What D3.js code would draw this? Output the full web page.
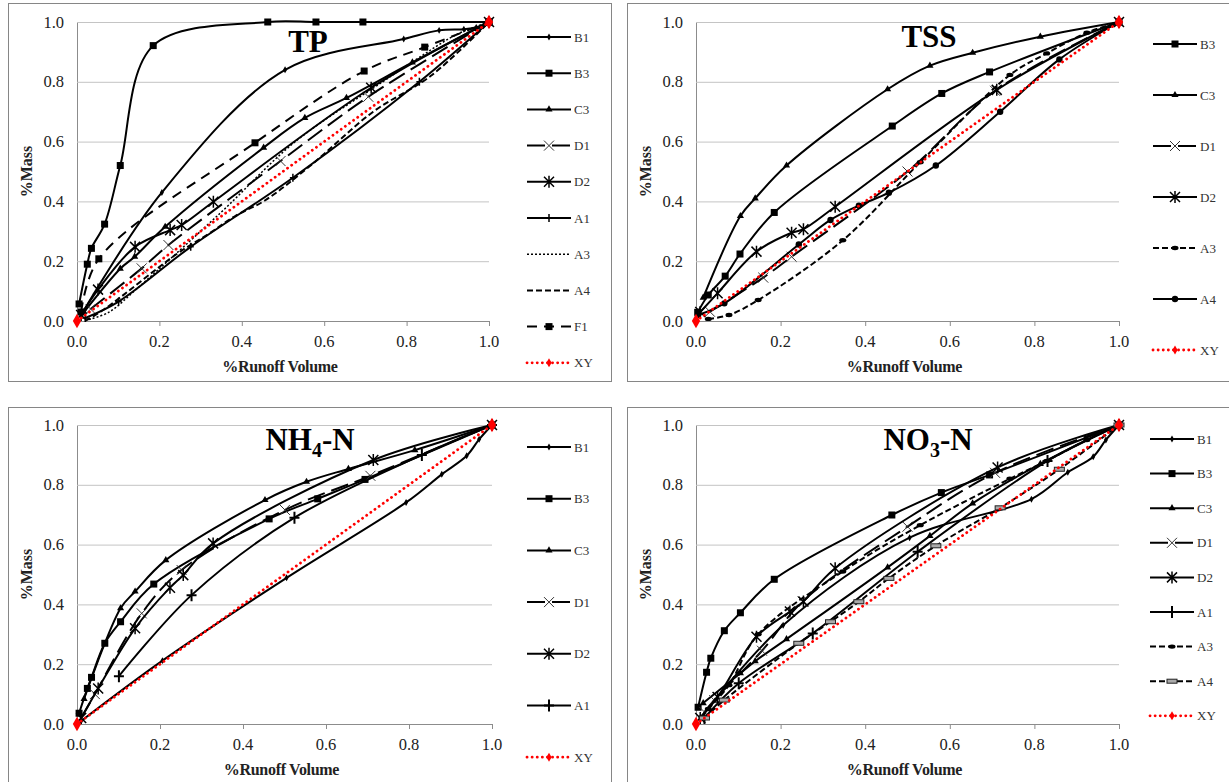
<!DOCTYPE html>
<html>
<head>
<meta charset="utf-8">
<script src="https://cdn.jsdelivr.net/npm/d3@7"></script>
<style>
  body { margin: 0; background: #fff; }
  svg text { font-family: "Liberation Serif", "Times New Roman", serif; }
</style>
</head>
<body>
<script>
// ticks
var xTicks = [0, 0.2, 0.4, 0.6, 0.8, 1.0],
    yTicks = [0, 0.2, 0.4, 0.6, 0.8, 1.0];

// line of equality, same in all panels
var XY = [[0, 0], [1, 1]];

// TP
var tpB1 = [[0.01,0.02],[0.206,0.43],[0.505,0.84],[0.793,0.943],[0.879,0.972],[0.939,0.976],[0.969,0.982],[1,1]];
var tpB3 = [[0.005,0.057],[0.025,0.19],[0.035,0.243],[0.067,0.324],[0.105,0.52],[0.185,0.921],[0.463,1],[0.58,1],[0.694,1],[1,1]];
var tpC3 = [[0.017,0.03],[0.105,0.175],[0.14,0.215],[0.214,0.315],[0.453,0.58],[0.553,0.679],[0.654,0.746],[0.814,0.865],[1,1]];
var tpD1 = [[0.033,0.04],[0.157,0.176],[0.222,0.254],[0.494,0.535],[0.707,0.75],[1,1]];
var tpD2 = [[0.01,0.02],[0.051,0.105],[0.141,0.248],[0.226,0.304],[0.254,0.321],[0.331,0.399],[0.714,0.78],[1,1]];
var tpA1 = [[0.02,0.01],[0.101,0.065],[0.276,0.248],[0.524,0.479],[0.831,0.8],[1,1]];
var tpA3 = [[0.029,0.005],[0.078,0.03],[0.147,0.11],[0.347,0.36],[0.53,0.6],[0.742,0.8],[0.829,0.88],[0.924,0.96],[1,1]];
var tpA4 = [[0.02,0.0],[0.067,0.04],[0.243,0.225],[0.318,0.29],[0.385,0.352],[0.456,0.403],[0.567,0.52],[0.719,0.7],[0.859,0.82],[1,1]];
var tpF1 = [[0.01,0.03],[0.053,0.208],[0.432,0.596],[0.697,0.836],[0.844,0.916],[1,1]];

// TSS
var tssB3 = [[0.004,0.029],[0.029,0.087],[0.069,0.15],[0.104,0.224],[0.185,0.363],[0.464,0.652],[0.581,0.761],[0.694,0.833],[1,1]];
var tssC3 = [[0.017,0.078],[0.105,0.351],[0.14,0.41],[0.214,0.52],[0.453,0.775],[0.553,0.854],[0.654,0.897],[0.814,0.951],[1,1]];
var tssD1 = [[0.033,0.031],[0.159,0.145],[0.226,0.215],[0.5,0.5],[0.707,0.77],[1,1]];
var tssD2 = [[0.01,0.03],[0.051,0.093],[0.143,0.232],[0.226,0.295],[0.254,0.307],[0.329,0.382],[0.711,0.773],[1,1]];
var tssA3 = [[0.029,0.007],[0.078,0.02],[0.147,0.07],[0.347,0.27],[0.53,0.531],[0.742,0.823],[0.829,0.895],[0.924,0.964],[1,1]];
var tssA4 = [[0.005,0.02],[0.067,0.059],[0.243,0.256],[0.318,0.338],[0.385,0.386],[0.456,0.429],[0.567,0.52],[0.719,0.7],[0.859,0.875],[1,1]];

// NH4-N
var nhB1 = [[0.01,0.01],[0.206,0.212],[0.505,0.489],[0.793,0.741],[0.879,0.835],[0.939,0.897],[0.969,0.952],[1,1]];
var nhB3 = [[0.005,0.036],[0.025,0.119],[0.035,0.156],[0.067,0.27],[0.105,0.342],[0.185,0.468],[0.463,0.686],[0.58,0.753],[0.694,0.818],[1,1]];
var nhC3 = [[0.017,0.084],[0.105,0.387],[0.14,0.443],[0.214,0.548],[0.453,0.749],[0.553,0.81],[0.654,0.853],[0.814,0.916],[1,1]];
var nhD1 = [[0.01,0.02],[0.043,0.1],[0.156,0.37],[0.252,0.515],[0.501,0.716],[0.707,0.83],[1,1]];
var nhD2 = [[0.01,0.02],[0.051,0.119],[0.14,0.32],[0.224,0.456],[0.256,0.498],[0.328,0.604],[0.714,0.883],[1,1]];
var nhA1 = [[0.101,0.16],[0.276,0.431],[0.524,0.69],[0.831,0.9],[1,1]];

// NO3-N
var noB1 = [[0.01,0.02],[0.206,0.33],[0.505,0.623],[0.793,0.752],[0.879,0.842],[0.939,0.894],[0.969,0.95],[1,1]];
var noB3 = [[0.005,0.056],[0.025,0.173],[0.035,0.22],[0.067,0.312],[0.105,0.372],[0.185,0.484],[0.463,0.699],[0.58,0.774],[0.694,0.833],[1,1]];
var noC3 = [[0.017,0.07],[0.105,0.17],[0.14,0.21],[0.214,0.284],[0.453,0.524],[0.553,0.629],[0.654,0.738],[0.814,0.87],[1,1]];
var noD1 = [[0.02,0.04],[0.043,0.08],[0.156,0.245],[0.252,0.41],[0.5,0.66],[0.707,0.84],[1,1]];
var noD2 = [[0.01,0.02],[0.051,0.09],[0.143,0.292],[0.222,0.376],[0.254,0.41],[0.329,0.521],[0.713,0.858],[1,1]];
var noA1 = [[0.02,0.02],[0.101,0.136],[0.276,0.303],[0.524,0.576],[0.831,0.88],[1,1]];
var noA3 = [[0.029,0.05],[0.078,0.13],[0.147,0.3],[0.347,0.51],[0.53,0.665],[0.742,0.82],[0.829,0.88],[0.924,0.95],[1,1]];
var noA4 = [[0.02,0.02],[0.067,0.08],[0.243,0.27],[0.318,0.342],[0.385,0.409],[0.456,0.487],[0.567,0.596],[0.719,0.723],[0.859,0.852],[1,1]];

// line styles
var SOLID = null, LONGDASH = "18,7", DASH = "6,3", DOT = "2,2", F1DASH = "10,7", REDDOT = "0.1,5";
var serif = "Liberation Serif, Times New Roman, serif";

var svg = d3.select("body").append("svg")
    .attr("width", 1229)
    .attr("height", 782);

function marker(g, type, cx, cy) {
    var m;
    if (type == "diamondS") {
        m = g.append("path").attr("d", d3.symbol(d3.symbolDiamond, 14)()).attr("fill", "#000");
    } else if (type == "square") {
        m = g.append("rect").attr("x", -3.5).attr("y", -3.5).attr("width", 7).attr("height", 7).attr("fill", "#000");
    } else if (type == "triangle") {
        m = g.append("path").attr("d", d3.symbol(d3.symbolTriangle, 22)()).attr("fill", "#000");
    } else if (type == "x") {
        m = g.append("path").attr("d", "M-5,-5L5,5M-5,5L5,-5").attr("stroke", "#333").attr("stroke-width", 1).attr("fill", "none");
    } else if (type == "star") {
        m = g.append("path").attr("d", "M-5,-5L5,5M-5,5L5,-5M0,-6L0,6").attr("stroke", "#000").attr("stroke-width", 1.5).attr("fill", "none");
    } else if (type == "plus") {
        m = g.append("path").attr("d", "M-5,0L5,0M0,-6L0,6").attr("stroke", "#000").attr("stroke-width", 2).attr("fill", "none");
    } else if (type == "plusS") {
        m = g.append("path").attr("d", "M-3,0L3,0M0,-4L0,4").attr("stroke", "#000").attr("stroke-width", 1.5).attr("fill", "none");
    } else if (type == "circle") {
        m = g.append("circle").attr("r", 3.2).attr("fill", "#000");
    } else if (type == "blob") {
        m = g.append("ellipse").attr("rx", 3.5).attr("ry", 2.2).attr("fill", "#000");
    } else if (type == "grayrect") {
        m = g.append("rect").attr("x", -5).attr("y", -2).attr("width", 10).attr("height", 4)
            .attr("fill", "#aaa").attr("stroke", "#222").attr("stroke-width", 1);
    } else if (type == "reddiamond") {
        m = g.append("path").attr("d", d3.symbol(d3.symbolDiamond, 60)()).attr("fill", "#ff0000");
    } else if (type == "reddiamondS") {
        m = g.append("path").attr("d", d3.symbol(d3.symbolDiamond, 24)()).attr("fill", "#ff0000");
    }
    if (m) m.attr("transform", "translate(" + cx + "," + cy + ")");
}

function drawPanel(p) {
    var g = svg.append("g");

    // panel border
    g.append("rect")
        .attr("x", p.box[0] + 0.5).attr("y", p.box[1] + 0.5)
        .attr("width", p.box[2]).attr("height", p.box[3])
        .attr("fill", "none").attr("stroke", "#868686");

    var x = d3.scaleLinear().domain([0, 1]).range([p.x0, p.x1]);
    var y = d3.scaleLinear().domain([0, 1]).range([p.yb, p.yt]);

    // gridlines
    g.append("g")
        .attr("transform", "translate(" + p.x0 + ",0)")
        .call(d3.axisLeft(y).tickValues(yTicks).tickSize(-(p.x1 - p.x0)).tickFormat(""))
        .call(function(a) {
            a.select(".domain").attr("stroke", "#8c8c8c");
            a.selectAll(".tick line").attr("stroke", "#c4c4c4");
        });

    // y labels
    g.append("g").selectAll("text")
        .data(yTicks).enter().append("text")
        .attr("x", p.x0 - 13)
        .attr("y", function(d) { return y(d) + 5.5; })
        .attr("text-anchor", "end")
        .attr("font-family", serif)
        .attr("font-size", 16.5)
        .attr("fill", "#222")
        .text(d3.format(".1f"));

    // x axis
    g.append("g")
        .attr("transform", "translate(0," + p.yb + ")")
        .call(d3.axisBottom(x).tickValues(xTicks).tickSizeInner(5).tickSizeOuter(0).tickFormat(""))
        .call(function(a) {
            a.select(".domain").attr("stroke", "#8c8c8c");
            a.selectAll(".tick line").attr("stroke", "#8c8c8c");
        });
    g.append("g").selectAll("text")
        .data(xTicks).enter().append("text")
        .attr("x", function(d) { return x(d); })
        .attr("y", p.yb + 26)
        .attr("text-anchor", "middle")
        .attr("font-family", serif)
        .attr("font-size", 16.5)
        .attr("fill", "#222")
        .text(d3.format(".1f"));

    // axis titles
    g.append("text")
        .attr("x", (p.x0 + p.x1) / 2 - 3)
        .attr("y", p.yb + 51)
        .attr("text-anchor", "middle")
        .attr("font-family", serif)
        .attr("font-size", 16).attr("font-weight", "bold")
        .attr("letter-spacing", -0.3)
        .attr("fill", "#222")
        .text("%Runoff Volume");
    g.append("text")
        .attr("transform", "translate(" + (p.x0 - 45) + "," + ((p.yt + p.yb) / 2) + ") rotate(-90)")
        .attr("text-anchor", "middle")
        .attr("font-family", serif)
        .attr("font-size", 16).attr("font-weight", "bold")
        .attr("fill", "#222")
        .text("%Mass");

    // panel title
    var t = g.append("text")
        .attr("x", p.titleX).attr("y", p.titleY)
        .attr("text-anchor", "middle")
        .attr("font-family", serif)
        .attr("font-size", 31).attr("font-weight", "bold");
    t.append("tspan").text(p.title[0]);
    if (p.title[1]) {
        t.append("tspan").attr("font-size", 20).attr("dy", 7).text(p.title[1]);
        t.append("tspan").attr("dy", -7).text(p.title[2]);
    }

    var line = d3.line()
        .x(function(d) { return x(d[0]); })
        .y(function(d) { return y(d[1]); })
        .curve(d3.curveCatmullRom.alpha(0.5));

    // series, drawn back to front
    p.series.forEach(function(s) {
        var sg = g.append("g");
        sg.append("path")
            .datum(s.data)
            .attr("d", line)
            .attr("fill", "none")
            .attr("stroke", s.color || "#000")
            .attr("stroke-width", s.width || 2)
            .attr("stroke-linecap", s.dash == REDDOT ? "round" : "butt")
            .attr("stroke-dasharray", s.dash);
        s.data.forEach(function(d) {
            marker(sg, s.marker, x(d[0]), y(d[1]));
        });
    });

    // legend
    p.series.forEach(function(s, i) {
        var ly = p.legY + i * p.legStep;
        var lg = g.append("g");
        lg.append("line")
            .attr("x1", p.legX).attr("x2", p.legX + 44)
            .attr("y1", ly).attr("y2", ly)
            .attr("stroke", s.color || "#000")
            .attr("stroke-width", s.width || 2)
            .attr("stroke-linecap", s.dash == REDDOT ? "round" : "butt")
            .attr("stroke-dasharray", s.dash);
        marker(lg, s.legMarker || s.marker, p.legX + 22, ly);
        lg.append("text")
            .attr("x", p.legX + 47).attr("y", ly + 4.5)
            .attr("font-family", serif)
            .attr("font-size", 13).attr("fill", "#333")
            .text(s.name);
    });
}

drawPanel({
    box: [8, 3, 603, 378], x0: 77, x1: 489, yt: 22, yb: 321,
    title: ["TP"], titleX: 308, titleY: 52,
    legX: 527, legY: 37, legStep: 36.2,
    series: [
        {name: "B1", data: tpB1, marker: "diamondS"},
        {name: "B3", data: tpB3, marker: "square"},
        {name: "C3", data: tpC3, marker: "triangle"},
        {name: "D1", data: tpD1, marker: "x", dash: LONGDASH},
        {name: "D2", data: tpD2, marker: "star"},
        {name: "A1", data: tpA1, marker: "plusS"},
        {name: "A3", data: tpA3, marker: "none", dash: DOT, width: 1.5},
        {name: "A4", data: tpA4, marker: "none", dash: DASH},
        {name: "F1", data: tpF1, marker: "square", dash: F1DASH},
        {name: "XY", data: XY, marker: "reddiamond", legMarker: "reddiamondS", dash: REDDOT, color: "#ff0000", width: 2.8}
    ]
});

drawPanel({
    box: [627, 3, 620, 378], x0: 696, x1: 1119, yt: 22, yb: 321,
    title: ["TSS"], titleX: 929, titleY: 47,
    legX: 1153, legY: 44, legStep: 51,
    series: [
        {name: "B3", data: tssB3, marker: "square"},
        {name: "C3", data: tssC3, marker: "triangle"},
        {name: "D1", data: tssD1, marker: "x", dash: LONGDASH},
        {name: "D2", data: tssD2, marker: "star"},
        {name: "A3", data: tssA3, marker: "blob", dash: DASH},
        {name: "A4", data: tssA4, marker: "circle"},
        {name: "XY", data: XY, marker: "reddiamond", legMarker: "reddiamondS", dash: REDDOT, color: "#ff0000", width: 2.8}
    ]
});

drawPanel({
    box: [8, 407, 603, 390], x0: 77, x1: 492, yt: 425, yb: 724,
    title: ["NH", "4", "-N"], titleX: 310, titleY: 450,
    legX: 527, legY: 447, legStep: 51.7,
    series: [
        {name: "B1", data: nhB1, marker: "diamondS"},
        {name: "B3", data: nhB3, marker: "square"},
        {name: "C3", data: nhC3, marker: "triangle"},
        {name: "D1", data: nhD1, marker: "x", dash: LONGDASH},
        {name: "D2", data: nhD2, marker: "star"},
        {name: "A1", data: nhA1, marker: "plus"},
        {name: "XY", data: XY, marker: "reddiamond", legMarker: "reddiamondS", dash: REDDOT, color: "#ff0000", width: 2.8}
    ]
});

drawPanel({
    box: [627, 407, 620, 390], x0: 696, x1: 1119, yt: 425, yb: 724,
    title: ["NO", "3", "-N"], titleX: 928, titleY: 450,
    legX: 1150, legY: 439, legStep: 34.6,
    series: [
        {name: "B1", data: noB1, marker: "diamondS"},
        {name: "B3", data: noB3, marker: "square"},
        {name: "C3", data: noC3, marker: "triangle"},
        {name: "D1", data: noD1, marker: "x", dash: LONGDASH},
        {name: "D2", data: noD2, marker: "star"},
        {name: "A1", data: noA1, marker: "plus"},
        {name: "A3", data: noA3, marker: "blob", dash: DASH},
        {name: "A4", data: noA4, marker: "grayrect", dash: DASH},
        {name: "XY", data: XY, marker: "reddiamond", legMarker: "reddiamondS", dash: REDDOT, color: "#ff0000", width: 2.8}
    ]
});
</script>
</body>
</html>
